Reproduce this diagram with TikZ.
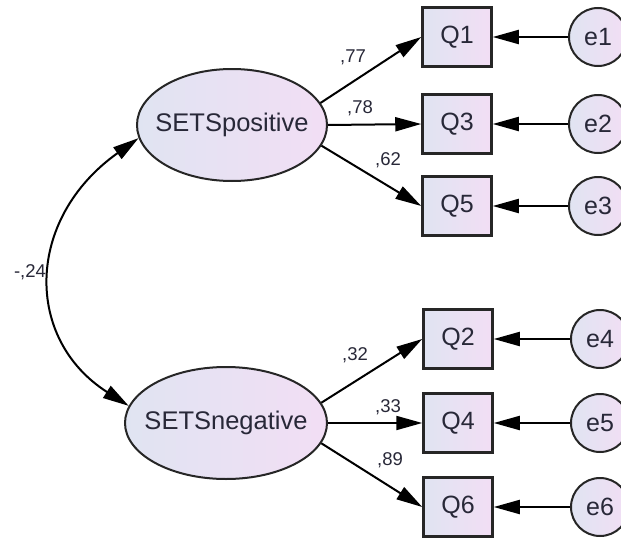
\documentclass[tikz,border=0pt]{standalone}
\usepackage{fontspec}
\setmainfont{Liberation Sans}
\usetikzlibrary{arrows.meta,shapes.geometric}
\definecolor{ink}{RGB}{40,40,56}
\definecolor{fillL}{RGB}{224,228,242}
\definecolor{fillR}{RGB}{242,222,244}
\begin{document}
\begin{tikzpicture}[x=1pt,y=-1pt,
  latent/.style={ellipse, draw=black!85, line width=2pt, left color=fillL, right color=fillR,
    minimum width=#1, minimum height=112pt, inner xsep=-14pt, inner ysep=0pt, text=ink,
    font=\fontsize{25.5}{28}\selectfont},
  obs/.style={rectangle, draw=black!85, line width=2.5pt, left color=fillL, right color=fillR,
    minimum width=69pt, minimum height=59pt, inner sep=0pt, text=ink,
    font=\fontsize{25}{28}\selectfont},
  err/.style={circle, draw=black!85, line width=2pt, left color=fillL, right color=fillR,
    minimum size=58pt, inner sep=0pt, text=ink, font=\fontsize{25}{28}\selectfont},
  coef/.style={inner sep=0pt, text=ink, font=\fontsize{18.5}{20}\selectfont},
  tip/.tip={Triangle[length=26pt,width=14pt]},
  arr/.style={-tip, line width=2pt, draw=black},
]
\clip (0,0) rectangle (621,538);

% latent factors
\node[latent=190pt] (pos) at (232,125) {SETSpositive};
\node[latent=202pt] (neg) at (226,423) {SETSnegative};

% observed items
\node[obs] (q1) at (457,37)  {Q1};
\node[obs] (q3) at (457,124) {Q3};
\node[obs] (q5) at (457,206) {Q5};
\node[obs] (q2) at (458,339) {Q2};
\node[obs] (q4) at (458,423) {Q4};
\node[obs] (q6) at (458,507) {Q6};

% error terms
\node[err] (e1) at (598,37)  {e1};
\node[err] (e2) at (598,124) {e2};
\node[err] (e3) at (598,206) {e3};
\node[err] (e4) at (600,339) {e4};
\node[err] (e5) at (600,423) {e5};
\node[err] (e6) at (600,507) {e6};

% loadings
\draw[arr] (pos.14)  -- (q1.west);
\draw[arr] (pos.east) -- (q3.west);
\draw[arr] (pos.-13) -- (q5.west);
\draw[arr] (neg.12)  -- (q2.west);
\draw[arr] (neg.east) -- (q4.west);
\draw[arr] (neg.-12) -- (q6.west);

% error paths
\foreach \e/\q in {e1/q1,e2/q3,e3/q5,e4/q2,e5/q4,e6/q6}
  \draw[arr] (\e) -- (\q.east);

% covariance between factors
\draw[tip-tip, line width=2pt] (pos.188) .. controls (25,219) and (24,339) .. (neg.170);

% coefficients
\node[coef] (l77) at (353,57)  {,77};
\node[coef] (l78) at (360,108) {,78};
\node[coef] (l62) at (388,160) {,62};
\node[coef] (l32) at (355,355) {,32};
\node[coef] (l33) at (388,407) {,33};
\node[coef] (l89) at (390,460) {,89};
\node[coef] (l24) at (30,272)  {-,24};
\end{tikzpicture}
\end{document}
